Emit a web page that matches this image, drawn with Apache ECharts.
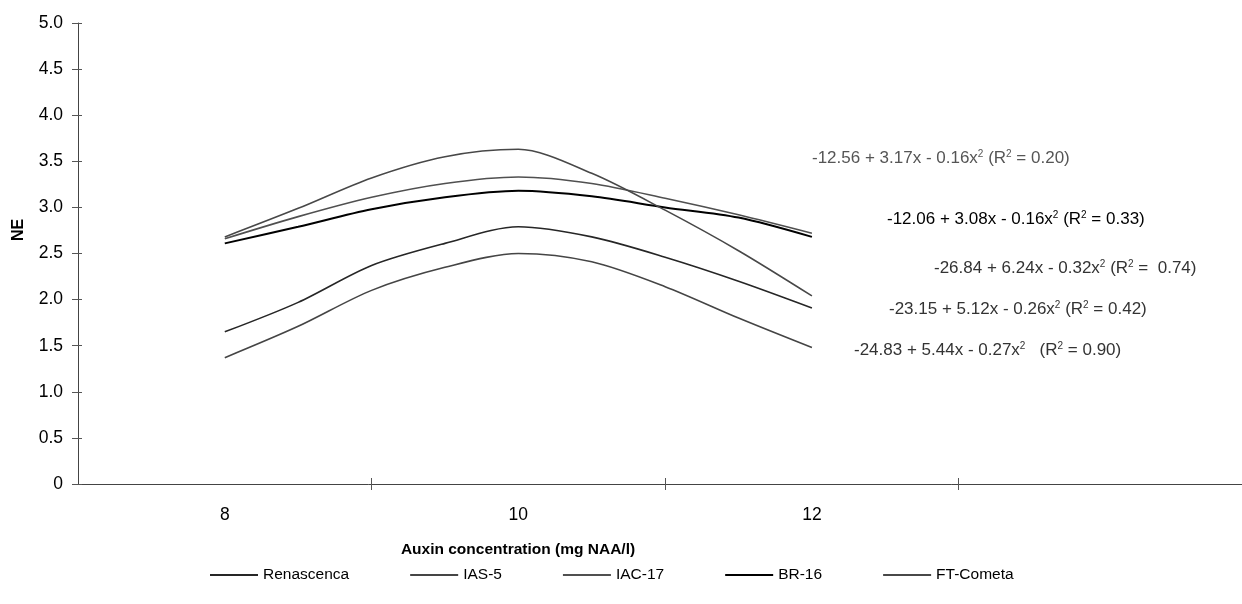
<!DOCTYPE html>
<html>
<head>
<meta charset="utf-8">
<script src="https://cdn.jsdelivr.net/npm/echarts@6/dist/echarts.min.js"></script>
<style>
  html, body { margin: 0; padding: 0; background: #fff; }
  #chart { width: 1242px; height: 604px; }
</style>
</head>
<body>
<div id="chart"></div>
<script>
// 读取自图片的数据（NE 对 NAA 浓度）
var auxin = [8, 8.5, 9, 9.5, 10, 10.5, 11, 11.5, 12];
var renascenca = [1.65, 1.97, 2.37, 2.61, 2.79, 2.68, 2.46, 2.20, 1.91];
var ias5 = [1.37, 1.71, 2.10, 2.35, 2.50, 2.41, 2.14, 1.80, 1.48];
var iac17 = [2.66, 2.90, 3.11, 3.26, 3.33, 3.26, 3.10, 2.92, 2.72];
var br16 = [2.61, 2.79, 2.98, 3.11, 3.18, 3.12, 3.00, 2.89, 2.68];
var ftCometa = [2.68, 2.99, 3.32, 3.55, 3.63, 3.37, 2.97, 2.53, 2.04];

var xLabels = [8, 10, 12];
var xTicks = [9, 11, 13];

var names = ['Renascenca', 'IAS-5', 'IAC-17', 'BR-16', 'FT-Cometa'];
var values = [renascenca, ias5, iac17, br16, ftCometa];
var colors = ['#262626', '#454545', '#505050', '#000000', '#484848'];

var equations = [
    '-12.56 + 3.17x - 0.16x{s|2} (R{s|2} = 0.20)',
    '-12.06 + 3.08x - 0.16x{s|2} (R{s|2} = 0.33)',
    '-26.84 + 6.24x - 0.32x{s|2} (R{s|2} =  0.74)',
    '-23.15 + 5.12x - 0.26x{s|2} (R{s|2} = 0.42)',
    '-24.83 + 5.44x - 0.27x{s|2}   (R{s|2} = 0.90)'
];

var myChart = echarts.init(document.getElementById('chart'));
var font = 'Liberation Sans, Arial, sans-serif';

function pairs(ys) {
    return ys.map(function (v, i) { return [auxin[i], v]; });
}

var series = names.map(function (n, i) {
    return {
        name: n,
        type: 'line',
        data: pairs(values[i]),
        smooth: 0.3,
        showSymbol: false,
        color: colors[i],
        lineStyle: { color: colors[i], width: n === 'BR-16' ? 2 : 1.6 }
    };
});

// 方程式标注
var eqPos = [[812, 158], [887, 219], [934, 268], [889, 309], [854, 350]];
var eqColors = ['#555', '#000', '#333', '#333', '#333'];
var graphics = equations.map(function (t, i) {
    return {
        type: 'text',
        x: eqPos[i][0],
        y: eqPos[i][1],
        style: {
            text: t,
            fill: eqColors[i],
            fontFamily: font,
            fontSize: 17,
            verticalAlign: 'middle',
            rich: {
                s: { fontSize: 10, verticalAlign: 'top', fill: eqColors[i], fontFamily: font }
            }
        }
    };
});
graphics.push({
    type: 'text', x: 518, y: 550,
    style: { text: 'Auxin concentration (mg NAA/l)', fill: '#000', fontFamily: font,
             fontSize: 15.5, fontWeight: 'bold', align: 'center', verticalAlign: 'middle' }
});
graphics.push({
    type: 'text', x: 19, y: 230, rotation: Math.PI / 2,
    style: { text: 'NE', fill: '#000', fontFamily: font,
             fontSize: 16, fontWeight: 'bold', align: 'center', verticalAlign: 'middle' }
});

var option = {
    animation: false,
    textStyle: { fontFamily: font },
    grid: { left: 78, top: 23, right: 0, bottom: 120 },
    legend: {
        data: names,
        left: 205,
        top: 562,
        icon: 'rect',
        itemWidth: 48,
        itemHeight: 2,
        itemGap: 61,
        textStyle: { fontSize: 15.5, color: '#000', fontFamily: font }
    },
    xAxis: [
        {
            type: 'value',
            min: 7,
            max: 14.93,
            axisLine: { show: true, onZero: false, lineStyle: { color: '#444', width: 1 } },
            axisTick: { show: true, length: 6, customValues: xTicks, lineStyle: { color: '#555' } },
            axisLabel: { customValues: xLabels, margin: 22, fontSize: 17.5, color: '#000' },
            splitLine: { show: false }
        },
        {
            type: 'value',
            min: 7,
            max: 14.93,
            position: 'bottom',
            axisLine: { show: false },
            axisTick: { show: true, inside: true, length: 6, customValues: xTicks, lineStyle: { color: '#555' } },
            axisLabel: { show: false },
            splitLine: { show: false }
        }
    ],
    yAxis: [
        {
            type: 'value',
            min: 0,
            max: 5,
            interval: 0.5,
            axisLine: { show: true, lineStyle: { color: '#444', width: 1 } },
            axisTick: { show: true, length: 6, lineStyle: { color: '#555' } },
            axisLabel: {
                margin: 15, fontSize: 17.5, color: '#000',
                formatter: function (v) { return v === 0 ? '0' : v.toFixed(1); }
            },
            splitLine: { show: false }
        },
        {
            type: 'value',
            min: 0,
            max: 5,
            interval: 0.5,
            position: 'left',
            axisLine: { show: false },
            axisTick: { show: true, inside: true, length: 4, lineStyle: { color: '#555' } },
            axisLabel: { show: false },
            splitLine: { show: false }
        }
    ],
    series: series,
    graphic: graphics
};

myChart.setOption(option);

window.addEventListener('resize', function () {
    myChart.resize();
});
</script>
</body>
</html>
